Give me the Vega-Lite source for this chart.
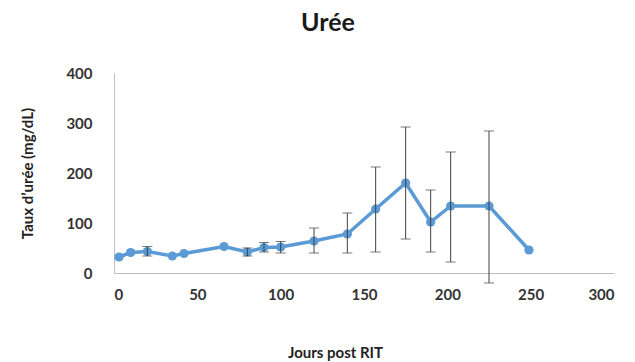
{
  "$schema": "https://vega.github.io/schema/vega-lite/v6.json",
  "width": 500,
  "height": 200,
  "autosize": {"type": "none"},
  "padding": {"left": 114, "top": 73, "right": 21, "bottom": 89},
  "background": "white",
  "title": {
    "text": "Urée",
    "font": "Lato",
    "fontSize": 25,
    "fontWeight": "bold",
    "color": "#1a1a1a",
    "anchor": "middle",
    "dx": -36,
    "offset": 30
  },
  "config": {
    "view": {"stroke": null},
    "axis": {
      "grid": false,
      "ticks": false,
      "domainColor": "#BFBFBF",
      "domainWidth": 1,
      "labelFont": "Lato",
      "labelFontSize": 15,
      "labelFontWeight": "bold",
      "labelColor": "#333333",
      "titleFont": "Lato",
      "titleFontSize": 15,
      "titleFontWeight": "bold",
      "titleColor": "#222222"
    }
  },
  "data": {
    "values": [
      {"jour": 3, "uree": 32},
      {"jour": 10, "uree": 41},
      {"jour": 20, "uree": 43, "lo": 34, "hi": 53},
      {"jour": 35, "uree": 34},
      {"jour": 42, "uree": 39},
      {"jour": 66, "uree": 53},
      {"jour": 80, "uree": 42, "lo": 34, "hi": 50},
      {"jour": 90, "uree": 51, "lo": 42, "hi": 61},
      {"jour": 100, "uree": 52, "lo": 40, "hi": 63},
      {"jour": 120, "uree": 64, "lo": 40, "hi": 90},
      {"jour": 140, "uree": 78, "lo": 40, "hi": 120},
      {"jour": 157, "uree": 128, "lo": 42, "hi": 212},
      {"jour": 175, "uree": 180, "lo": 68, "hi": 292},
      {"jour": 190, "uree": 102, "lo": 42, "hi": 166},
      {"jour": 202, "uree": 134, "lo": 22, "hi": 242},
      {"jour": 225, "uree": 134, "lo": -20, "hi": 284},
      {"jour": 249, "uree": 46}
    ]
  },
  "encoding": {
    "x": {
      "field": "jour",
      "type": "quantitative",
      "scale": {"domain": [0, 300], "nice": false},
      "axis": {
        "values": [0, 50, 100, 150, 200, 250, 300],
        "labelPadding": 14,
        "title": "Jours post RIT",
        "titleX": 221,
        "titleY": 79,
        "titleBaseline": "middle",
        "titleAlign": "center"
      }
    },
    "y": {
      "field": "uree",
      "type": "quantitative",
      "scale": {"domain": [0, 400], "nice": false},
      "axis": {
        "values": [0, 100, 200, 300, 400],
        "labelPadding": 22,
        "title": "Taux d’urée (mg/dL)",
        "titleAngle": -90,
        "titleX": -87,
        "titleY": 100,
        "titleBaseline": "middle",
        "titleAlign": "center"
      }
    }
  },
  "layer": [
    {
      "mark": {"type": "line", "color": "#5B9BD5", "strokeWidth": 3.5}
    },
    {
      "mark": {"type": "point", "filled": true, "color": "#5B9BD5", "size": 85, "opacity": 1}
    },
    {
      "transform": [{"filter": "isValid(datum.lo)"}],
      "mark": {
        "type": "errorbar",
        "clip": false,
        "ticks": {"size": 10, "color": "#404040", "strokeWidth": 1},
        "rule": {"color": "#404040", "strokeWidth": 1}
      },
      "encoding": {
        "y": {"field": "lo", "type": "quantitative"},
        "y2": {"field": "hi"}
      }
    }
  ]
}
